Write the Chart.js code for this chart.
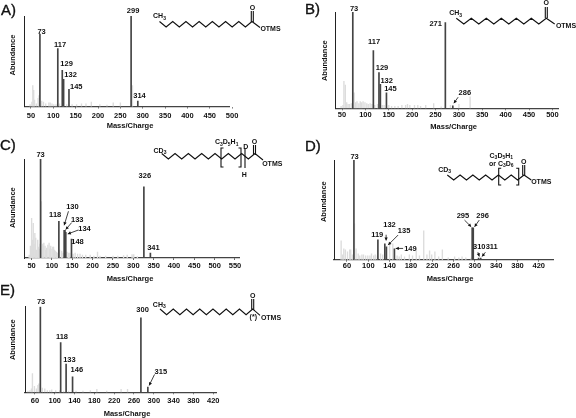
<!DOCTYPE html>
<html>
<head>
<meta charset="utf-8">
<title>Mass spectra</title>
<script src="https://cdn.jsdelivr.net/npm/chart.js@4"></script>
<style>
    html, body { margin: 0; padding: 0; background: #fff; }
    body { position: relative; width: 576px; height: 418px; overflow: hidden; font-family: "Liberation Sans", Arial, sans-serif; }
    canvas { position: absolute; }
    .letter { position: absolute; font-size: 15px; line-height: 15px; color: #111; -webkit-text-stroke: 0.35px #111; }
    #molecules { position: absolute; left: 0; top: 0; }
    #molecules text { font: bold 7px "Liberation Sans", Arial, sans-serif; fill: #111; text-anchor: middle; }
    #molecules .bond { fill: none; stroke: #111; stroke-width: 1.1; }
</style>
</head>
<body>
<canvas id="chartA"></canvas>
<canvas id="chartB"></canvas>
<canvas id="chartC"></canvas>
<canvas id="chartD"></canvas>
<canvas id="chartE"></canvas>
<div class="letter" style="left:1px;top:2px">A)</div>
<div class="letter" style="left:305px;top:1px">B)</div>
<div class="letter" style="left:0px;top:137px">C)</div>
<div class="letter" style="left:305px;top:138px">D)</div>
<div class="letter" style="left:0px;top:282px">E)</div>
<svg id="molecules" width="576" height="418" xmlns="http://www.w3.org/2000/svg"></svg>
<script>
// Panel A
const aTicks = [50, 100, 150, 200, 250, 300, 350, 400, 450, 500];
const aPeakLabels = ["73", "117", "129", "132", "145", "299", "314"];
const aPeakX = [70, 110, 120, 123, 135, 274, 289];
const aPeakY = [80, 64, 40, 30, 19, 100, 6];
const aNoiseX = [48, 52, 54, 56, 58, 62, 66, 68, 74, 78, 83, 90, 93, 97, 101, 106, 114, 122, 130, 142, 152, 163, 173, 185, 204, 220, 234, 250, 277];
const aNoiseY = [2, 5, 23, 18, 7, 3, 9, 12, 6, 5, 3, 4, 4, 3, 2, 2, 3, 3, 2, 2, 2, 3, 3, 5, 2, 1.5, 4, 4, 23];

// Panel B
const bTicks = [50, 100, 150, 200, 250, 300, 350, 400, 450, 500];
const bPeakLabels = ["73", "117", "129", "132", "145", "271", "286"];
const bPeakX = [73, 117, 129, 132, 145, 271, 287];
const bPeakY = [100, 60, 37, 25, 16, 89, 2.5];
const bNoiseX = [48, 52, 54, 57, 60, 63, 66, 70, 76, 79, 82, 86, 89, 92, 95, 99, 103, 106, 110, 114, 120, 126, 136, 140, 150, 156, 163, 170, 178, 186, 190, 195, 205, 212, 218, 229, 246, 262, 282, 300, 324];
const bNoiseY = [2, 3, 28, 24, 6, 4, 4, 5, 16, 6, 7, 5, 7, 6, 7, 6, 5, 4, 5, 4, 3, 4, 3, 3, 3, 2, 2, 2, 3, 3, 4, 3, 3, 3, 2, 3, 5, 1.5, 3, 4, 12];

// Panel C
const cTicks = [50, 100, 150, 200, 250, 300, 350, 400, 450, 500, 550];
const cPeakLabels = ["73", "118", "130", "133", "134", "148", "326", "341"];
const cPeakX = [72, 117, 130, 132, 134, 148, 326, 342];
const cPeakY = [100, 37, 28, 28, 26, 19, 72, 5];
const cNoiseX = [44, 47, 50, 52, 54, 56, 58, 60, 62, 65, 67, 69, 71, 74, 76, 78, 80, 83, 85, 87, 90, 93, 95, 97, 100, 102, 104, 106, 108, 111, 114, 119, 124, 127, 137, 141, 144, 152, 157, 163, 169, 175, 183, 194, 203, 212, 218, 232, 250, 262, 276, 285, 297, 301, 310];
const cNoiseY = [3, 12, 40, 18, 35, 14, 25, 20, 8, 18, 11, 9, 14, 57, 14, 12, 15, 12, 8, 10, 13, 15, 9, 12, 9, 11, 11, 8, 7, 6, 5, 8, 7, 5, 6, 5, 5, 4, 5, 4, 4, 3, 3, 3, 2, 6, 2, 2, 2, 2, 2.5, 3, 3.5, 3.5, 1.5];

// Panel D
const dTicks = [60, 100, 140, 180, 220, 260, 300, 340, 380, 420];
const dPeakLabels = ["73", "119", "132", "135", "149", "295", "296", "310", "311"];
const dPeakX = [73, 118, 131, 134, 149, 295, 297, 307, 311];
const dPeakY = [100, 20, 16, 13, 11, 32, 32, 1.5, 1.5];
const dNoiseX = [49, 52, 54, 57, 61, 65, 67, 70, 74, 77, 81, 84, 88, 91, 95, 99, 103, 106, 110, 113, 117, 123, 127, 140, 146, 154, 158, 162, 168, 177, 183, 190, 196, 204, 210, 215, 219, 225, 232, 239, 250, 262, 270, 276, 283, 293];
const dNoiseY = [19, 5, 11, 10, 8, 10, 10, 5, 36, 11, 6, 4, 5, 5, 4, 4, 4, 6, 4, 5, 4, 6, 5, 15, 16, 4, 3, 5, 3, 5, 4, 11, 4, 29, 5, 9, 5, 8, 3, 10, 2, 3, 2, 3, 2, 1.5];

// Panel E
const eTicks = [60, 100, 140, 180, 220, 260, 300, 340, 380, 420];
const ePeakLabels = ["73", "118", "133", "146", "300", "315"];
const ePeakX = [71, 112, 123, 136, 274, 288];
const ePeakY = [100, 58, 33, 18, 87, 6];
const eNoiseX = [46, 50, 53, 55, 59, 63, 66, 68, 71, 75, 80, 85, 90, 94, 102, 110, 118, 128, 143, 157, 172, 185, 205, 234, 247];
const eNoiseY = [1.5, 2, 4, 22, 7, 4, 8, 10, 6, 5, 4, 2, 2, 3, 2, 2, 1.5, 1.5, 1.5, 1.5, 2, 3.5, 1.5, 3.5, 3.5];

// page rectangles and annotation offsets (pixels from the top of a peak)
const panels = [
    {
        id: "chartA", box: [0, 0, 288, 135], plot: [24.5, 16, 229, 106.5], range: [35.5, 493],
        ticks: aTicks, peakX: aPeakX, peakY: aPeakY, peakLabels: aPeakLabels, noiseX: aNoiseX, noiseY: aNoiseY,
        tickGap: 2.7, yTitle: [13, 55], xTitle: [130, 126],
        offsets: [[1.7, -2], [2.3, -4], [4.3, -6.7], [7, -4.3], [7.3, -2], [2, -4.7], [1.7, -5.3]],
        arrows: []
    },
    {
        id: "chartB", box: [288, 0, 288, 135], plot: [335.5, 12, 558, 108.3], range: [36, 512],
        ticks: bTicks, peakX: bPeakX, peakY: bPeakY, peakLabels: bPeakLabels, noiseX: bNoiseX, noiseY: bNoiseY,
        tickGap: 0.6, yTitle: [325, 60.7], xTitle: [453.7, 127],
        offsets: [[1.3, -3], [0.7, -8.7], [3, -4.7], [6.3, -3.7], [4, -4.3], [-9.7, 1.3], [12, -13.3]],
        arrows: [[6, 5.3, -8.7, 1, -2.7]]
    },
    {
        id: "chartC", box: [0, 135, 288, 149], plot: [24.3, 159, 239.3, 258], range: [32, 560.6],
        ticks: cTicks, peakX: cPeakX, peakY: cPeakY, peakLabels: cPeakLabels, noiseX: cNoiseX, noiseY: cNoiseY,
        tickGap: 1.9, yTitle: [13, 207.7], xTitle: [130, 279],
        offsets: [[0, -4.3], [-3.7, -6.7], [8.3, -23], [12.3, -10], [18.7, -3.3], [6, 2.7], [1, -10.3], [3, -5]],
        arrows: [[2, 4.3, -19, 0, -5], [3, 6.7, -7.7, 0.7, -0.7], [4, 12.7, -2.3, 2, 1.7]]
    },
    {
        id: "chartD", box: [288, 135, 288, 149], plot: [334, 160, 553.7, 259.7], range: [35.6, 448],
        ticks: dTicks, peakX: dPeakX, peakY: dPeakY, peakLabels: dPeakLabels, noiseX: dNoiseX, noiseY: dNoiseY,
        tickGap: -0.5, yTitle: [324, 201.7], xTitle: [450, 279],
        offsets: [[0.7, -2.7], [-0.7, -5], [4.7, -19], [17.7, -16.3], [16, 0], [-9.3, -11.7], [9.3, -11.7], [0.7, -11], [11, -11]],
        arrows: [[2, 1.3, -9, 1.3, -3.3], [3, 11.7, -11.7, 1.7, -1.7], [4, 8.7, -0.3, 1.3, -0.3], [5, -7.7, -7.7, -1, -1], [6, 6, -7.7, 1.3, -1], [7, -0.7, -6, 0.7, -1.7], [8, 4.7, -6, 1.3, -1.7]]
    },
    {
        id: "chartE", box: [0, 284, 288, 134], plot: [25, 306.7, 216.7, 392.3], range: [40, 427],
        ticks: eTicks, peakX: ePeakX, peakY: ePeakY, peakLabels: ePeakLabels, noiseX: eNoiseX, noiseY: eNoiseY,
        tickGap: 2.2, yTitle: [13.3, 339.7], xTitle: [127, 413.7],
        offsets: [[0.7, -5], [1.3, -5.3], [3.3, -4.3], [4.3, -7.3], [1.7, -8], [13, -15.7]],
        arrows: [[5, 6.7, -12.7, 1.3, -1.7]]
    }
];

const boldFont = 'bold 7.5px "Liberation Sans", Arial, sans-serif';

// peak numbers, arrows and both axis titles
const annotationPlugin = {
    id: "annotations",
    afterDatasetsDraw(chart, args, opts) {
        const p = opts.panel;
        const ctx = chart.ctx;
        const x = chart.scales.x;
        const y = chart.scales.y;
        ctx.save();
        ctx.fillStyle = "#111";
        ctx.strokeStyle = "#111";
        ctx.font = boldFont;
        ctx.textAlign = "center";
        ctx.textBaseline = "middle";

        p.peakLabels.forEach(function (label, i) {
            const px = x.getPixelForValue(p.peakX[i]);
            const py = y.getPixelForValue(p.peakY[i]);
            ctx.fillText(label, px + p.offsets[i][0], py + p.offsets[i][1]);
        });

        p.arrows.forEach(function (a) {
            const px = x.getPixelForValue(p.peakX[a[0]]);
            const py = y.getPixelForValue(p.peakY[a[0]]);
            const x1 = px + a[1], y1 = py + a[2], x2 = px + a[3], y2 = py + a[4];
            const angle = Math.atan2(y2 - y1, x2 - x1);
            ctx.lineWidth = 0.8;
            ctx.beginPath();
            ctx.moveTo(x1, y1);
            ctx.lineTo(x2, y2);
            ctx.stroke();
            ctx.beginPath();
            ctx.moveTo(x2, y2);
            ctx.lineTo(x2 - 3.5 * Math.cos(angle - 0.5), y2 - 3.5 * Math.sin(angle - 0.5));
            ctx.lineTo(x2 - 3.5 * Math.cos(angle + 0.5), y2 - 3.5 * Math.sin(angle + 0.5));
            ctx.closePath();
            ctx.fill();
        });

        ctx.fillText("Mass/Charge", p.xTitle[0] - p.box[0], p.xTitle[1] - p.box[1]);
        ctx.translate(p.yTitle[0] - p.box[0], p.yTitle[1] - p.box[1]);
        ctx.rotate(-Math.PI / 2);
        ctx.fillText("Abundance", 0, 0);
        ctx.restore();
    }
};

function toPoints(xs, ys) {
    return xs.map(function (v, i) { return { x: v, y: ys[i] }; });
}

panels.forEach(function (p) {
    const canvas = document.getElementById(p.id);
    canvas.width = p.box[2];
    canvas.height = p.box[3];
    canvas.style.left = p.box[0] + "px";
    canvas.style.top = p.box[1] + "px";

    const yWidth = 4;
    const xHeight = 16;

    new Chart(canvas.getContext("2d"), {
        type: "bar",
        data: {
            datasets: [
                { label: "Peaks", data: toPoints(p.peakX, p.peakY), backgroundColor: "#444444", barThickness: 1, grouped: false, order: 0 },
                { label: "Background", data: toPoints(p.noiseX, p.noiseY), backgroundColor: "#dcdcdc", barThickness: 0.7, grouped: false, order: 1 }
            ]
        },
        options: {
            responsive: false,
            animation: false,
            layout: {
                padding: {
                    left: p.plot[0] - p.box[0] - yWidth,
                    top: p.plot[1] - p.box[1],
                    right: p.box[0] + p.box[2] - p.plot[2],
                    bottom: p.box[1] + p.box[3] - p.plot[3] - xHeight
                }
            },
            plugins: { legend: { display: false }, tooltip: { enabled: false }, annotations: { panel: p } },
            scales: {
                x: {
                    type: "linear",
                    offset: false,
                    min: p.range[0],
                    max: p.range[1],
                    afterBuildTicks(scale) { scale.ticks = p.ticks.map(function (v) { return { value: v }; }); },
                    afterFit(scale) { scale.height = xHeight; },
                    grid: { display: true, offset: false, drawOnChartArea: false, tickLength: 2, tickColor: "#444", tickWidth: 0.8 },
                    border: { color: "#444", width: 1.2 },
                    ticks: { autoSkip: false, minRotation: 0, maxRotation: 0, padding: p.tickGap, color: "#111", font: { family: '"Liberation Sans", Arial, sans-serif', size: 7.5, weight: "bold" } }
                },
                y: {
                    min: 0,
                    max: 100,
                    afterFit(scale) { scale.width = yWidth; },
                    grid: { display: false },
                    border: { color: "#222", width: 1 },
                    ticks: { display: false }
                }
            }
        },
        plugins: [annotationPlugin]
    });
});

// structure drawings next to the spectra
const svg = document.getElementById("molecules");
const SVG_NS = "http://www.w3.org/2000/svg";

function addLine(points) {
    const el = document.createElementNS(SVG_NS, "polyline");
    el.setAttribute("class", "bond");
    el.setAttribute("points", points.map(function (q) { return q.join(","); }).join(" "));
    svg.appendChild(el);
}

function addText(parts, x, y) {
    const el = document.createElementNS(SVG_NS, "text");
    el.setAttribute("x", x);
    el.setAttribute("y", y + 2.5);
    parts.forEach(function (part) {
        const span = document.createElementNS(SVG_NS, "tspan");
        span.textContent = part[0];
        if (part[1]) {
            span.setAttribute("dy", "1.5");
            span.setAttribute("font-size", "5");
        } else if (part[2]) {
            span.setAttribute("dy", "-1.5");
        }
        el.appendChild(span);
    });
    svg.appendChild(el);
}

function chain(x0, x1, high, low, n) {
    const pts = [];
    for (let i = 0; i <= n; i++) {
        pts.push([x0 + (x1 - x0) * i / n, i % 2 ? low : high]);
    }
    return pts;
}

function bracket(x, y1, y2, dir) {
    addLine([[x + dir * 2.5, y1], [x, y1], [x, y2], [x + dir * 2.5, y2]]);
}

function carbonyl(x, top, bottom) {
    addLine([[x - 1, top], [x - 1, bottom]]);
    addLine([[x + 1, top], [x + 1, bottom]]);
}

// A
addText([["CH"], ["3", true]], 159.5, 15.5);
addLine(chain(159.5, 252, 21.5, 27, 14).concat([[260, 27.5]]));
carbonyl(252.3, 11, 22);
addText([["O"]], 252.5, 7);
addText([["OTMS"]], 270.5, 28);

// B
addText([["CH"], ["3", true]], 455.7, 12.7);
addLine(chain(456.3, 546.3, 18.3, 24, 12).concat([[554.7, 24]]));
carbonyl(546.3, 7, 18);
addText([["O"]], 546.3, 2);
addText([["OTMS"]], 566, 25.7);

// C
addText([["CD"], ["3", true]], 160, 150);
addLine(chain(161.7, 255, 153.5, 159, 14).concat([[263, 160]]));
addLine([[245, 148], [245, 168]]);
bracket(221, 148, 167, 1);
bracket(241, 148, 167, -1);
carbonyl(254.5, 145, 155);
addText([["O"]], 254.5, 141);
addText([["D"]], 245.7, 146);
addText([["H"]], 244.3, 174);
addText([["OTMS"]], 272.3, 163);
addText([["C"], ["3", true], ["D", false, true], ["5", true], ["H", false, true], ["1", true]], 226.7, 141.7);

// D
addText([["CD"], ["3", true]], 444.7, 169.3);
addLine(chain(447.3, 524, 175, 180, 12).concat([[531.3, 180]]));
bracket(498.7, 168.3, 185, 1);
bracket(518.7, 168.3, 185, -1);
carbonyl(523.7, 165, 175.5);
addText([["O"]], 523.7, 161.7);
addText([["OTMS"]], 541.3, 181);
addText([["C"], ["3", true], ["D", false, true], ["5", true], ["H", false, true], ["1", true]], 501.3, 155);
addText([["or C"], ["3", true], ["D", false, true], ["6", true]], 501.3, 163.3);

// E
addText([["CH"], ["3", true]], 159.3, 304);
addLine(chain(160, 252.7, 309, 314.7, 14).concat([[260, 315.3]]));
carbonyl(252.7, 299, 309.5);
addText([["O"]], 252.7, 295.3);
addText([["OTMS"]], 271, 317);
addText([["(*)"]], 253.3, 316.3);
</script>
</body>
</html>
